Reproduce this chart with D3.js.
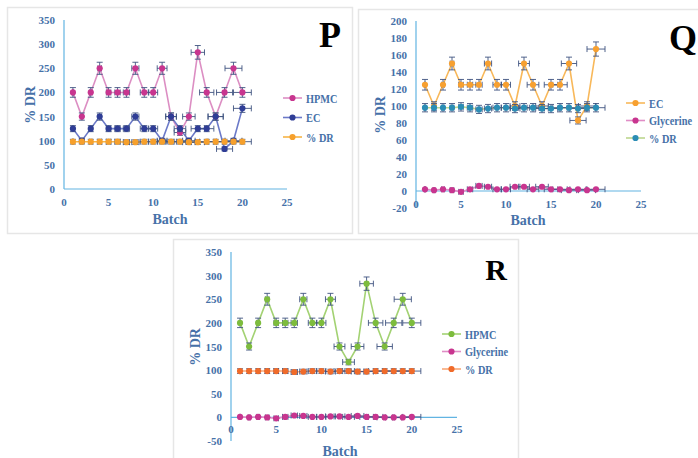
<!DOCTYPE html>
<html><head><meta charset="utf-8">
<script src="https://cdn.jsdelivr.net/npm/d3@7"></script>
<style>body{margin:0;background:#fff}svg{display:block}</style>
</head><body>
<svg id="c" width="698" height="458"></svg>
<script>
const batches = d3.range(1, 21);
const hpmc = [200,150,200,250,200,200,200,250,200,200,250,150,117,150,283,200,150,200,250,200];
const ec = [125,100,125,150,125,125,125,150,125,125,100,150,125,100,125,125,150,83,100,167];
const drP = [98,98,98,98,98,98,97,97,98,98,98,98,98,97,97,98,98,98,98,98];
const drQ = [98,98,98,98,99,98,96,97,98,98,97,98,98,97,97,98,98,97,98,98];
const drR = [98,98,98,98,98,98,96,97,98,98,97,98,98,97,97,98,98,98,98,98];
const glyQ = [2,1,2,1,-1,2,6,5,2,2,5,5,2,5,2,2,1,2,1,2];
const glyR = [1,0,1,0,-2,1,4,3,1,1,2,2,1,3,1,1,0,0,0,1];
const xTicks = [0,5,10,15,20,25];
const yTicksP = d3.range(0, 351, 50);
const yTicksQ = d3.range(-20, 201, 20);
const yTicksR = d3.range(-50, 351, 50);

const svg = d3.select("#c");
const SERIF = "'Liberation Serif','Times New Roman',serif";
const TXT = "#4671a8";
const AXIS = "#62b4e2";
const ERR = "#3f5380";

function panel(cfg){
  const g = svg.append("g");
  g.append("rect").attr("x",cfg.frame[0]+0.5).attr("y",cfg.frame[1]+0.5)
    .attr("width",cfg.frame[2]-cfg.frame[0]).attr("height",cfg.frame[3]-cfg.frame[1])
    .attr("fill","#fff").attr("stroke","#e6e6e6").attr("stroke-width",1.5);
  const x = d3.scaleLinear().domain([0,25]).range(cfg.xr);
  const y = d3.scaleLinear().domain(cfg.yd).range(cfg.yr);
  g.append("line").attr("x1",x(0)).attr("x2",x(0)).attr("y1",y(cfg.yd[1])).attr("y2",y(cfg.yd[0]))
    .attr("stroke",AXIS).attr("stroke-width",1.2);
  g.append("line").attr("x1",x(0)).attr("x2",x(25)).attr("y1",y(0)).attr("y2",y(0))
    .attr("stroke",AXIS).attr("stroke-width",1.2);
  g.selectAll(".yt").data(cfg.yt).join("text")
    .attr("x",x(0)-9).attr("y",d=>y(d)+4).attr("text-anchor","end")
    .attr("font-family",SERIF).attr("font-weight","bold").attr("font-size",11).attr("fill",TXT)
    .text(d=>d);
  g.selectAll(".xt").data(xTicks).join("text")
    .attr("x",d=>x(d)).attr("y",cfg.xLabY).attr("text-anchor","middle")
    .attr("font-family",SERIF).attr("font-weight","bold").attr("font-size",11).attr("fill",TXT)
    .text(d=>d);
  g.append("text").attr("x",cfg.batch[0]).attr("y",cfg.batch[1]).attr("text-anchor","middle")
    .attr("font-family",SERIF).attr("font-weight","bold").attr("font-size",14).attr("fill",TXT).text("Batch");
  g.append("text").attr("transform",`translate(${cfg.ylab[0]},${cfg.ylab[1]}) rotate(-90)`)
    .attr("text-anchor","middle").attr("dy","0.35em")
    .attr("font-family",SERIF).attr("font-weight","bold").attr("font-size",14).attr("fill",TXT).text("% DR");
  g.append("text").attr("x",cfg.letter[0]).attr("y",cfg.letter[1]).attr("text-anchor","middle")
    .attr("font-family",SERIF).attr("font-weight","bold").attr("font-size",cfg.letter[3]).attr("fill","#000").text(cfg.letter[2]);

  const line = d3.line().x((d,i)=>x(batches[i])).y(d=>y(d));
  cfg.series.forEach(s=>{
    g.append("path").datum(s.v).attr("d",line).attr("fill","none").attr("stroke",s.lc).attr("stroke-width",1.6);
  });
  cfg.series.forEach(s=>{
    const pts = s.v.map((v,i)=>({x:batches[i],y:v}));
    const eg = g.append("g").attr("stroke",ERR).attr("stroke-width",0.9).attr("fill","none");
    pts.forEach(p=>{
      const ey = Math.abs(p.y)*0.05, ex = p.x*0.05;
      eg.append("line").attr("x1",x(p.x)).attr("x2",x(p.x)).attr("y1",y(p.y-ey)).attr("y2",y(p.y+ey));
      eg.append("line").attr("x1",x(p.x)-3).attr("x2",x(p.x)+3).attr("y1",y(p.y-ey)).attr("y2",y(p.y-ey));
      eg.append("line").attr("x1",x(p.x)-3).attr("x2",x(p.x)+3).attr("y1",y(p.y+ey)).attr("y2",y(p.y+ey));
      eg.append("line").attr("x1",x(p.x-ex)).attr("x2",x(p.x+ex)).attr("y1",y(p.y)).attr("y2",y(p.y));
      eg.append("line").attr("x1",x(p.x-ex)).attr("x2",x(p.x-ex)).attr("y1",y(p.y)-3).attr("y2",y(p.y)+3);
      eg.append("line").attr("x1",x(p.x+ex)).attr("x2",x(p.x+ex)).attr("y1",y(p.y)-3).attr("y2",y(p.y)+3);
    });
    g.selectAll(null).data(pts).join("circle").attr("cx",d=>x(d.x)).attr("cy",d=>y(d.y))
      .attr("r",3.1).attr("fill",s.mc);
  });
  cfg.series.forEach((s,i)=>{
    const ly = cfg.leg[1] + i*cfg.leg[2];
    g.append("line").attr("x1",cfg.leg[0]).attr("x2",cfg.leg[0]+19).attr("y1",ly).attr("y2",ly)
      .attr("stroke",s.lc).attr("stroke-width",1.6);
    g.append("circle").attr("cx",cfg.leg[0]+9.5).attr("cy",ly).attr("r",3.1).attr("fill",s.mc);
    g.append("text").attr("transform",`translate(${cfg.leg[0]+23},${ly+4.5}) scale(0.86,1)`)
      .attr("font-family",SERIF).attr("font-weight","bold").attr("font-size",12).attr("fill",TXT).text(s.name);
  });
}

panel({frame:[7,7,352,233], xr:[64,287], yd:[0,350], yr:[189,20], yt:yTicksP, xLabY:206,
  batch:[170,224], ylab:[30,105], letter:[330,47,"P",36], leg:[283,98,19.5],
  series:[
    {name:"HPMC", v:hpmc, lc:"#dc8ec3", mc:"#c8358f"},
    {name:"EC", v:ec, lc:"#6b79c8", mc:"#2f3d96"},
    {name:"% DR", v:drP, lc:"#f7b446", mc:"#f6a02c"}
  ]});
panel({frame:[358,9,700,233], xr:[416,641], yd:[-20,200], yr:[208,21], yt:yTicksQ, xLabY:208,
  batch:[528,225], ylab:[380,115], letter:[683,50,"Q",36], leg:[626,103,17.5],
  series:[
    {name:"EC", v:ec, lc:"#f8b85a", mc:"#f7a030"},
    {name:"Glycerine", v:glyQ, lc:"#e08dc6", mc:"#c8358f"},
    {name:"% DR", v:drQ, lc:"#bcd68e", mc:"#2b8db5"}
  ]});
panel({frame:[173,239,518,462], xr:[231,457], yd:[-50,350], yr:[441,252], yt:yTicksR, xLabY:433,
  batch:[340,456], ylab:[195,347], letter:[496,280,"R",30], leg:[442,334,17.5],
  series:[
    {name:"HPMC", v:hpmc, lc:"#a3d273", mc:"#7dbc3d"},
    {name:"Glycerine", v:glyR, lc:"#e08dc6", mc:"#c8358f"},
    {name:"% DR", v:drR, lc:"#f8a878", mc:"#f06b2a"}
  ]});
</script>
</body></html>
